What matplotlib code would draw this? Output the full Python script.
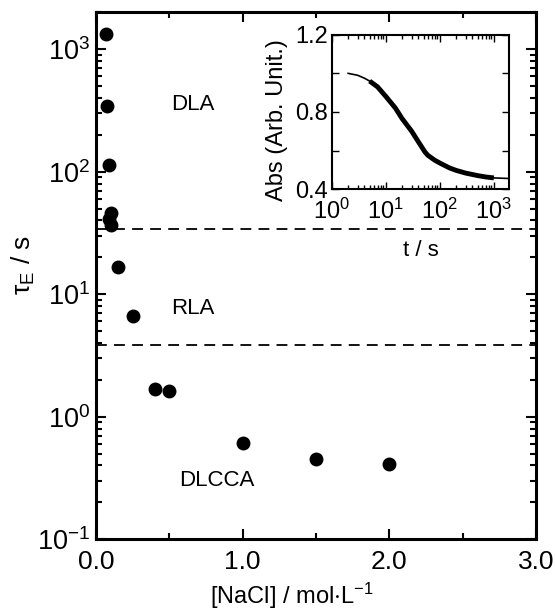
import matplotlib
matplotlib.use("Agg")
import matplotlib.pyplot as plt
from matplotlib.ticker import LogLocator, FixedLocator, NullFormatter

plt.rcParams['font.family'] = ['Liberation Sans', 'DejaVu Sans']
plt.rcParams['mathtext.fontset'] = 'custom'
plt.rcParams['mathtext.rm'] = 'Liberation Sans'
plt.rcParams['mathtext.it'] = 'Liberation Sans:italic'
plt.rcParams['mathtext.default'] = 'regular'

# Main data
nacl = [0.068, 0.075, 0.088, 0.10, 0.09, 0.10, 0.15, 0.25, 0.40, 0.50, 1.0, 1.5, 2.0]
tau_e = [1320, 340, 114, 46, 41, 37, 16.6, 6.6, 1.69, 1.63, 0.61, 0.45, 0.41]
boundaries = [34, 3.85]
regimes = ["DLA", "RLA", "DLCCA"]
regime_x = [0.66, 0.66, 0.82]
regime_y = [350, 7.6, 0.30]
x_ticks = [0.0, 1.0, 2.0, 3.0]
x_ticklabels = ["0.0", "1.0", "2.0", "3.0"]

# Inset data
t_s = [2, 3, 4, 5, 7, 10, 15, 20, 30, 40, 53, 60, 80, 100, 150, 200, 300, 500, 700, 1000, 1900]
absorb = [1.00, 0.99, 0.975, 0.96, 0.93, 0.88, 0.82, 0.765, 0.70, 0.645, 0.592, 0.575,
          0.55, 0.535, 0.51, 0.497, 0.483, 0.47, 0.463, 0.458, 0.455]

fig = plt.figure(figsize=(5.55, 6.1), dpi=100)
ax = fig.add_axes([0.173, 0.116, 0.793, 0.864])
ax.set_yscale('log')
ax.set_xlim(0, 3)
ax.set_ylim(0.1, 2000)

for b in boundaries:
    ax.axhline(b, color='black', lw=1.3, ls=(0, (6, 4)))

ax.plot(nacl, tau_e, 'o', color='black', ms=9)

for name, xx, yy in zip(regimes, regime_x, regime_y):
    ax.text(xx, yy, name, fontsize=16, ha='center', va='center')

ax.xaxis.set_major_locator(FixedLocator(x_ticks))
ax.set_xticklabels(x_ticklabels)
ax.xaxis.set_minor_locator(FixedLocator([0.5, 1.5, 2.5]))
ax.yaxis.set_major_locator(LogLocator(base=10, numticks=10))
ax.yaxis.set_minor_locator(LogLocator(base=10, subs=range(2, 10), numticks=20))
ax.yaxis.set_minor_formatter(NullFormatter())

ax.tick_params(which='both', direction='in', top=True, right=True, width=1.5)
ax.tick_params(which='major', length=7)
ax.tick_params(which='minor', length=4)
ax.tick_params(axis='x', which='major', pad=8, labelsize=19)
ax.tick_params(axis='y', which='major', pad=4, labelsize=19.5)
for s in ax.spines.values():
    s.set_linewidth(2.2)

ax.set_xlabel(r'[NaCl] / mol$\cdot$L$^{-1}$', fontsize=17)
ax.xaxis.set_label_coords(0.445, -0.078)
ax.set_ylabel(r'$\tau_{\rm E}$ / s', fontsize=19)
ax.yaxis.set_label_coords(-0.135, 0.52)

# Inset
ins = fig.add_axes([0.598, 0.690, 0.319, 0.253])
ins.set_xscale('log')
ins.set_xlim(1, 1900)
ins.set_ylim(0.4, 1.2)
ins.plot(t_s, absorb, color='black', lw=1.2)
ins.plot(t_s[3:-1], absorb[3:-1], color='black', lw=3.5, solid_capstyle='butt')
ins.yaxis.set_major_locator(FixedLocator([0.4, 0.8, 1.2]))
ins.yaxis.set_minor_locator(FixedLocator([0.6, 1.0]))
ins.set_yticklabels(['0.4', '0.8', '1.2'])
ins.xaxis.set_major_locator(LogLocator(base=10, numticks=10))
ins.xaxis.set_minor_locator(LogLocator(base=10, subs=range(2, 10), numticks=20))
ins.xaxis.set_minor_formatter(NullFormatter())
ins.tick_params(which='both', direction='in', top=True, right=True, width=1.0, labelsize=17)
ins.tick_params(which='major', length=5)
ins.tick_params(which='minor', length=3)
ins.tick_params(axis='y', which='minor', length=5)
ins.tick_params(axis='y', which='major', pad=3)
ins.tick_params(axis='x', which='major', pad=7)
for s in ins.spines.values():
    s.set_linewidth(1.5)
ins.set_xlabel('t / s', fontsize=16)
ins.xaxis.set_label_coords(0.5, -0.33)
ins.set_ylabel('Abs (Arb. Unit.)', fontsize=17)
ins.yaxis.set_label_coords(-0.25, 0.45)

fig.savefig('out.png', dpi=100)
